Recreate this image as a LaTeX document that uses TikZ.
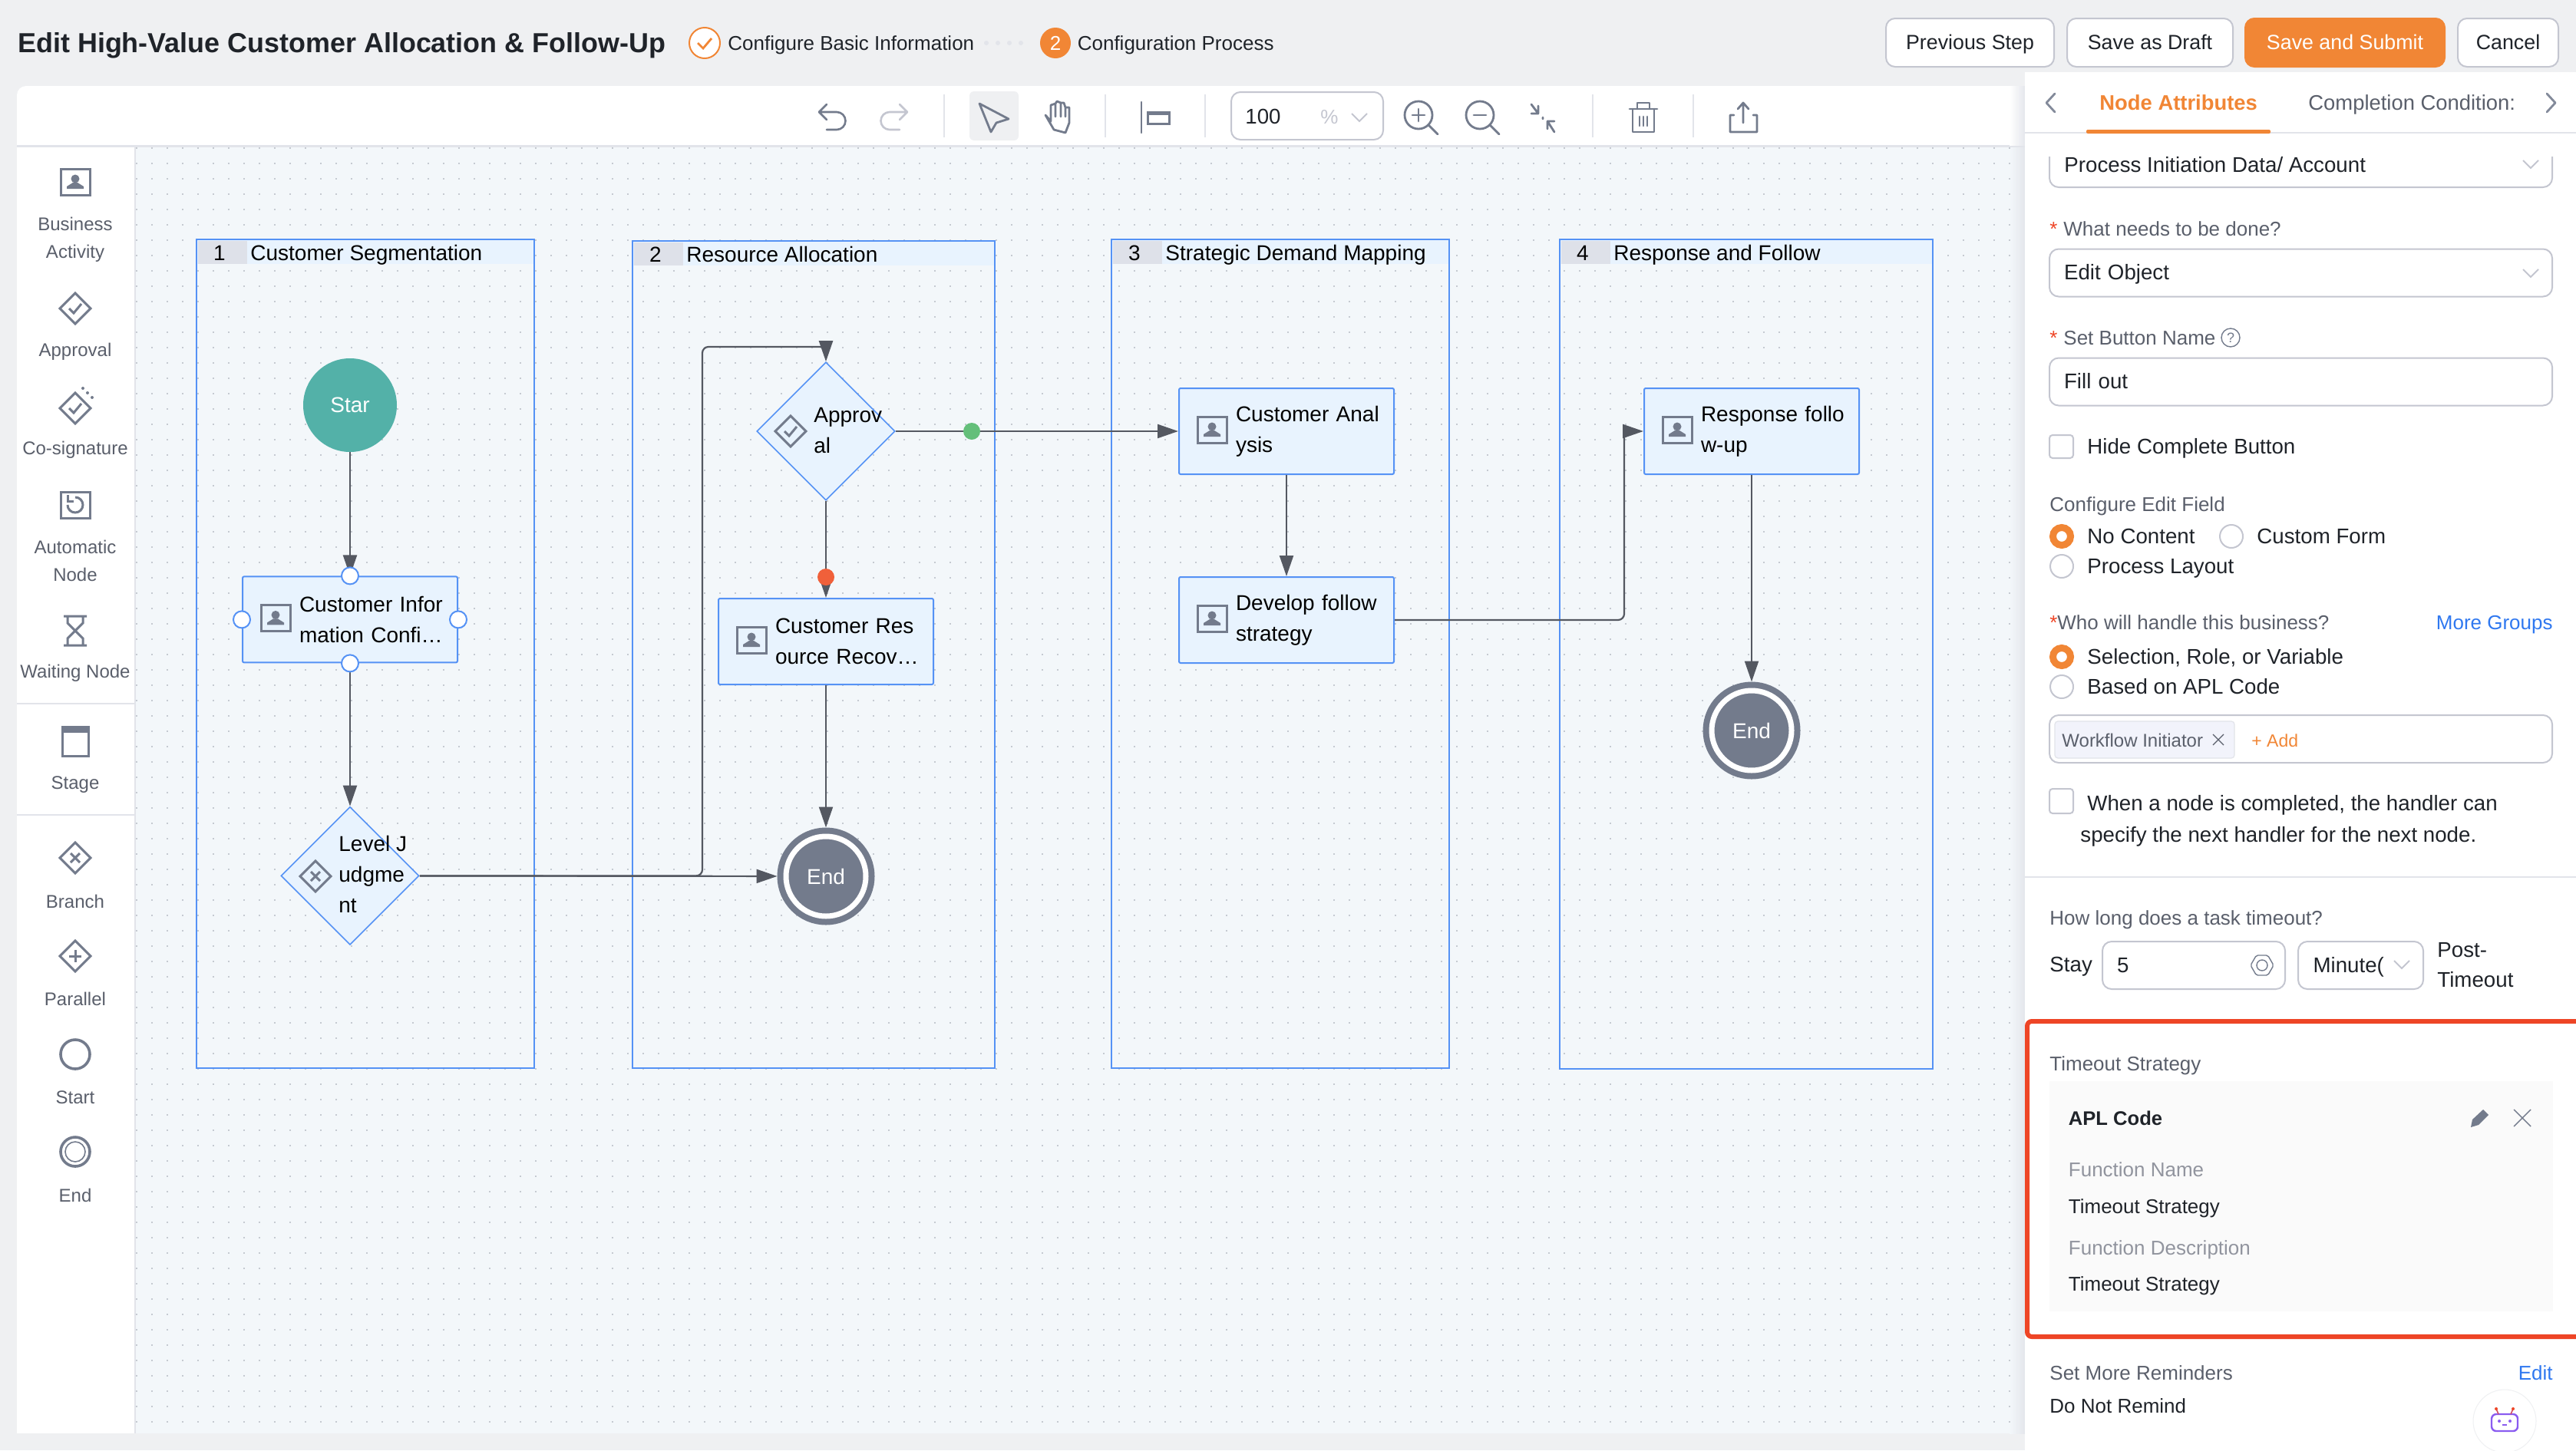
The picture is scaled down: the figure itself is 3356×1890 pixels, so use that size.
\documentclass[tikz,border=0pt]{standalone}
\usepackage{fontspec}
\setmainfont{Liberation Sans}
\usetikzlibrary{
    shapes.geometric,
    arrows.meta,
    positioning,
    calc
}
\definecolor{page_gray}{HTML}{EFF0F2}
\definecolor{canvas_blue}{HTML}{F3F7FA}
\definecolor{node_blue}{HTML}{E8F3FE}
\definecolor{flow_blue}{HTML}{5592F5}
\definecolor{line_gray}{HTML}{545861}
\definecolor{icon_gray}{HTML}{737B8C}
\definecolor{edge_gray}{HTML}{C4C6D0}
\definecolor{rule_gray}{HTML}{E2E4EA}
\definecolor{dot_gray}{HTML}{C5CAD1}
\definecolor{head_gray}{HTML}{DEE1E9}
\definecolor{start_teal}{HTML}{53B1A8}
\definecolor{pass_green}{HTML}{64BF7A}
\definecolor{reject_red}{HTML}{F0603A}
\definecolor{ui_orange}{HTML}{F18635}
\definecolor{ui_red}{HTML}{EE4526}
\definecolor{ui_blue}{HTML}{2F78F0}
\definecolor{text_dark}{HTML}{1F2329}
\definecolor{text_gray}{HTML}{5A5F6B}
\definecolor{text_soft}{HTML}{91949E}
\definecolor{tag_fill}{HTML}{F2F3FB}
\definecolor{code_fill}{HTML}{FAFAFA}
\definecolor{bot_purple}{HTML}{8A5CF0}

\begin{document}
\begin{tikzpicture}[
            x=0.5pt, y=-0.5pt,
            ui_text/.style={anchor=west, inner sep=0pt, text height=12pt, text depth=3pt, text=text_dark, font=\fontsize{13.85}{18}\selectfont},
            ui_head/.style={ui_text, font=\fontsize{13}{18}\selectfont},
            ui_label/.style={ui_text, text=text_gray, font=\fontsize{13}{18}\selectfont},
            ui_soft/.style={ui_label, text=text_soft},
            ui_link/.style={ui_label, anchor=east, text=ui_blue},
            side_text/.style={align=center, inner sep=0pt, yshift=-0.25pt, text=text_gray, font=\fontsize{12}{18}\selectfont},
            lane_box/.style={draw=flow_blue, line width=1pt},
            lane_head/.style={ui_text, text=black, font=\fontsize{14}{18}\selectfont},
            task_node/.style={rectangle, draw=flow_blue, fill=node_blue, line width=1pt, rounded corners=1pt, minimum width=140pt, minimum height=56pt, inner xsep=3pt, inner ysep=0pt, text width=134pt, align=left, text=black, font=\fontsize{14}{20}\selectfont, execute at begin node={\leftskip=34pt\relax}},
            gate_node/.style={diamond, draw=flow_blue, fill=node_blue, line width=0.8pt, minimum width=90pt, minimum height=90pt, inner sep=0pt},
            gate_text/.style={anchor=west, align=left, inner sep=0pt, text=black, font=\fontsize{14}{20}\selectfont},
            start_node/.style={circle, fill=start_teal, minimum size=61pt, inner sep=0pt, text=white, font=\fontsize{14}{18}\selectfont},
            end_node/.style={circle, draw=icon_gray, double=white, fill=icon_gray, line width=4pt, double distance=3.5pt, minimum size=52pt, inner sep=0pt, outer sep=5.75pt, text=white, font=\fontsize{14}{18}\selectfont},
            port_node/.style={circle, draw=flow_blue, fill=white, line width=1pt, minimum size=11pt, inner sep=0pt},
            flow_arrow/.style={draw=line_gray, line width=1.1pt, -{Triangle[length=13.5pt, width=9pt]}},
            ghost_button/.style={rectangle, rounded corners=6pt, draw=edge_gray, fill=white, line width=1pt, minimum height=31.5pt, inner sep=0pt, text height=12pt, text depth=3pt, text=text_dark, font=\fontsize{13.4}{18}\selectfont},
            input_box/.style={rectangle, rounded corners=6pt, draw=edge_gray, fill=white, line width=1pt, anchor=north west, outer sep=0pt, minimum width=327.5pt, minimum height=31pt, inner xsep=9.5pt, inner ysep=0pt, text width=308.5pt, text height=12pt, text depth=3pt, align=left, text=text_dark, font=\fontsize{13.85}{18}\selectfont},
            check_box/.style={draw=edge_gray, fill=white, line width=1pt, rounded corners=2pt},
            radio_off/.style={circle, draw=edge_gray, fill=white, line width=1pt, minimum size=15pt, inner sep=0pt},
            radio_on/.style={circle, draw=ui_orange, fill=white, line width=4.5pt, minimum size=11.5pt, inner sep=0pt},
            icon_line/.style={draw=icon_gray, line width=1.5pt},
            tool_line/.style={draw=icon_gray, line width=1.4pt, line cap=round, line join=round},
            chev_line/.style={draw=edge_gray, line width=1pt},
            grid_dots/.style={draw=dot_gray, line width=1pt, dash pattern=on 1pt off 9pt},
            person_icon/.pic={
                \draw[icon_line] (-19,-17) rectangle (19,17);
                \fill[icon_gray] (0,-4) circle (5.5);
                \fill[icon_gray] (-11,9) -- (-11,6) -- (-3,1) -- (3,1) -- (11,6) -- (11,9) -- cycle;
            },
            gate_shape/.pic={
                \draw[icon_line] (-20,0) -- (0,-20) -- (20,0) -- (0,20) -- cycle;
            },
            gate_check/.pic={
                \pic {gate_shape};
                \draw[icon_line] (-8,0) -- (-2,6) -- (8,-6);
            },
            gate_cross/.pic={
                \pic {gate_shape};
                \draw[icon_line] (-6,-6) -- (6,6) (-6,6) -- (6,-6);
            },
            gate_plus/.pic={
                \pic {gate_shape};
                \draw[icon_line] (-8,0) -- (8,0) (0,-8) -- (0,8);
            },
            undo_icon/.pic={
                \draw[line width=1.3pt, line cap=round, line join=round, draw=#1] (-9,-17) -- (-19,-7) -- (-9,3) (-19,-7) -- (4,-7) arc (-90:90:11.5) -- (-9,16);
            },
            down_chevron/.pic={
                \draw[chev_line] (-10,-5) -- (0,5) -- (10,-5);
            },
            lens_icon/.pic={
                \draw[tool_line] (0,0) circle (18);
                \draw[tool_line] (13,13) -- (25,25);
                \draw[tool_line] (-8,0) -- (8,0);
            }
        ]

        \useasboundingbox (0,0) rectangle (3356,1890);
        \fill[page_gray] (0,0) rectangle (3356,1890);
        \fill[white, rounded corners=6pt] (22,112) rectangle (2700,220);
        \fill[canvas_blue] (176,192) rectangle (2640,1868);
        \fill[white] (22,192) rectangle (175,1868);
        \fill[rule_gray] (22,189) rectangle (2640,192);
        \fill[rule_gray] (175,192) rectangle (177,1868);
        \shade[left color=white, right color=rule_gray] (2618,112) rectangle (2640,189);
        \shade[left color=canvas_blue, right color=rule_gray] (2618,192) rectangle (2640,1868);
        \foreach \dy in {193,213,...,1853}
            \draw[grid_dots] (177,\dy) -- (2637,\dy);

        \node[ui_text, font=\fontsize{17.95}{22}\selectfont\bfseries] (page_title) at (23,59) {Edit High-Value Customer Allocation \& Follow-Up};
        \node[circle, draw=ui_orange, fill=white, line width=1pt, minimum size=20pt, inner sep=0pt] (step_one) at (918,56) {};
        \draw[ui_orange, line width=1.4pt] (909,56) -- (916,63) -- (927,50);
        \node[ui_head, right=4.5pt of step_one] (step_one_text) {Configure Basic Information};
        \foreach \dx in {1285,1300,1315,1330}
            \fill[rule_gray] (\dx,56) circle (3);
        \node[circle, fill=ui_orange, minimum size=20pt, inner sep=0pt, text=white, font=\fontsize{13}{16}\selectfont] (step_two) at (1375,56) {2};
        \node[ui_head, right=4pt of step_two] (step_two_text) {Configuration Process};

        \node[ghost_button, minimum width=109.5pt] (btn_previous) at (2566.5,55.5) {Previous Step};
        \node[ghost_button, minimum width=108pt, right=7.5pt of btn_previous] (btn_draft) {Save as Draft};
        \node[ghost_button, minimum width=130pt, draw=ui_orange, fill=ui_orange, text=white, right=7pt of btn_draft] (btn_submit) {Save and Submit};
        \node[ghost_button, minimum width=65.5pt, right=7.5pt of btn_submit] (btn_cancel) {Cancel};

        \foreach \dx in {1230,1440,1570,2075,2206}
            \draw[rule_gray, line width=0.8pt] (\dx,123) -- (\dx,179);
        \pic at (1086,153) {undo_icon=icon_gray};
        \pic[xscale=-1] at (1163,153) {undo_icon=edge_gray};
        \fill[page_gray, rounded corners=3pt] (1263,119) rectangle (1327,183);
        \draw[tool_line] (1276,135) -- (1314,155) -- (1298,160) -- (1291,172) -- cycle;
        \draw[tool_line] (1362,150) -- (1373,169) -- (1388,173) -- (1393,160) -- (1393,140) -- (1388,140) -- (1388,152) (1388,140) -- (1386,134) -- (1382,134) -- (1382,152) (1382,134) -- (1377,132) -- (1375,135) -- (1375,152) (1375,135) -- (1369,137) -- (1369,158) -- (1362,150);
        \draw[tool_line] (1487,133) -- (1487,173);
        \draw[icon_gray, line width=1.5pt, fill=white] (1495,146) rectangle (1523,161);
        \fill[icon_gray] (1495,146) rectangle (1523,150);
        \node[ghost_button, minimum width=99pt, minimum height=31pt] (zoom_box) at (1703,151) {};
        \node[ui_text] (zoom_value) at (1622,152) {100};
        \node[ui_soft, text=edge_gray] (zoom_unit) at (1720,152) {\%};
        \pic at (1771,153) {down_chevron};
        \pic at (1848,150) {lens_icon};
        \draw[tool_line] (1848,142) -- (1848,158);
        \pic at (1928,150) {lens_icon};
        \draw[tool_line] (1995,136) -- (2004,148) (2004,138) -- (2004,148) -- (1995,148) (2025,172) -- (2016,158) (2016,168) -- (2016,158) -- (2025,158) (2010,153) -- (2010,155);
        \draw[tool_line] (2123,142) -- (2159,142) (2133,142) -- (2133,134) -- (2149,134) -- (2149,142) (2127,142) -- (2127,172) -- (2155,172) -- (2155,142) (2136,152) -- (2136,164) (2141,152) -- (2141,164) (2146,152) -- (2146,164);
        \draw[tool_line] (2259,150) -- (2254,150) -- (2254,172) -- (2289,172) -- (2289,150) -- (2284,150) (2271,160) -- (2271,134) (2264,142) -- (2271,134) -- (2278,142);

        \pic at (98,237) {person_icon};
        \pic at (98,402) {gate_check};
        \pic at (98,532) {gate_check};
        \foreach \a/\b in {114/512,120/518,108/506}
            \fill[icon_gray] (\a,\b) circle (2);
        \draw[icon_line] (79,641) rectangle (117,675);
        \draw[icon_line] (98,648) arc (-90:180:10);
        \draw[icon_line] (88,645) -- (88,653) -- (96,653);
        \draw[icon_line] (83,803) -- (113,803) (83,841) -- (113,841) (88,803) -- (88,812) -- (108,832) -- (108,841) (108,803) -- (108,812) -- (88,832) -- (88,841);
        \draw[icon_line] (81,947) rectangle (115,985);
        \fill[icon_gray] (81,947) rectangle (115,955);
        \pic at (98,1118) {gate_cross};
        \pic at (98,1246) {gate_plus};
        \draw[icon_gray, line width=1.8pt] (98,1374) circle (19);
        \draw[icon_gray, line width=1.8pt] (98,1501) circle (19);
        \draw[icon_gray, line width=0.8pt] (98,1501) circle (13);

        \node[side_text] (side_business) at (98,312) {Business\\Activity};
        \node[side_text] (side_approval) at (98,458) {Approval};
        \node[side_text] (side_cosign) at (98,586) {Co-signature};
        \node[side_text] (side_auto) at (98,730) {Automatic\\Node};
        \node[side_text] (side_wait) at (98,877) {Waiting Node};
        \node[side_text] (side_stage) at (98,1022) {Stage};
        \node[side_text] (side_branch) at (98,1174) {Branch};
        \node[side_text] (side_parallel) at (98,1301) {Parallel};
        \node[side_text] (side_start) at (98,1430) {Start};
        \node[side_text] (side_end) at (98,1557) {End};
        \draw[rule_gray, line width=1pt] (22,917) -- (175,917) (22,1062) -- (175,1062);

        \foreach \id/\xl/\xr/\yt/\yb/\lanetitle in {1/256/696/312/1392/Customer Segmentation, 2/824/1296/314/1392/Resource Allocation, 3/1448/1888/312/1392/Strategic Demand Mapping, 4/2032/2518/312/1393/Response and Follow} {
            \fill[node_blue] (\xl,\yt) rectangle (\xr,\yt+32);
            \fill[head_gray] (\xl+2,\yt+2) rectangle (\xl+66,\yt+32);
            \draw[lane_box] (\xl,\yt) rectangle (\xr,\yb);
            \node[lane_head, anchor=center] (lane_num_\id) at (\xl+30,\yt+18) {\id};
            \node[lane_head] (lane_title_\id) at (\xl+70,\yt+18) {\lanetitle};
        }

        \node[start_node] (start_a) at (456,528) {Star};
        \node[task_node, below=80.5pt of start_a] (cust_info) {Customer Infor\\mation Confi…};
        \node[gate_node, below=93.1pt of cust_info] (level_gate) {};
        \node[gate_text] (level_text) at (441,1139) {Level J\\udgme\\nt};
        \node[end_node] (end_a) at (1076,1142) {End};

        \node[gate_node] (approval_gate) at (1076,562) {};
        \node[gate_text] (approval_text) at (1060,561) {Approv\\al};
        \node[task_node, below=63.1pt of approval_gate] (res_recovery) {Customer Res\\ource Recov…};

        \node[task_node] (cust_analysis) at (1676,562) {Customer Anal\\ysis};
        \node[task_node, below=66pt of cust_analysis] (follow_plan) {Develop follow\\strategy};

        \node[task_node] (follow_up) at (2282,562) {Response follo\\w-up};
        \node[end_node] (end_b) at (2282,952) {End};

        \coordinate (loop_turn) at (915,452);
        \coordinate (follow_turn) at (2116,562);

        \draw[flow_arrow] (start_a) -- (cust_info);
        \draw[flow_arrow] (cust_info) -- (level_gate);
        \draw[flow_arrow] (level_gate.east) -- (end_a);
        \draw[flow_arrow, rounded corners=4pt] (level_gate.east) -| (loop_turn) -| (approval_gate.north);
        \draw[flow_arrow] (approval_gate.east) -- (cust_analysis.west);
        \draw[flow_arrow] (approval_gate.south) -- (res_recovery.north);
        \draw[flow_arrow] (res_recovery) -- (end_a);
        \draw[flow_arrow] (cust_analysis) -- (follow_plan);
        \draw[flow_arrow, rounded corners=4pt] (follow_plan.east) -| (follow_turn) -- (follow_up.west);
        \draw[flow_arrow] (follow_up) -- (end_b);

        \foreach \n in {cust_info,res_recovery,cust_analysis,follow_plan,follow_up}
            \pic at ($(\n.west)+(44,-2)$) {person_icon};
        \pic at (411,1142) {gate_cross};
        \pic at (1030,562) {gate_check};

        \node[port_node] (port_top) at (cust_info.north) {};
        \node[port_node] (port_bottom) at (cust_info.south) {};
        \node[port_node] (port_left) at (cust_info.west) {};
        \node[port_node] (port_right) at (cust_info.east) {};
        \node[circle, fill=pass_green, minimum size=11pt, inner sep=0pt] (pass_dot) at (1266,562) {};
        \node[circle, fill=reject_red, minimum size=11pt, inner sep=0pt] (reject_dot) at (1076,752) {};

        \fill[white] (2638,94) rectangle (3356,1890);
        \draw[rule_gray, line width=1pt] (2638,172.5) -- (3356,172.5);
        \fill[ui_orange, rounded corners=1pt] (2718,169) rectangle (2958,174);
        \draw[tool_line, edge_gray!20!icon_gray] (2677,122) -- (2666,134) -- (2677,146);
        \draw[tool_line, edge_gray!20!icon_gray] (3318,122) -- (3329,134) -- (3318,146);
        \node[ui_text, text=ui_orange, font=\fontsize{13.7}{18}\selectfont\bfseries] (tab_attr) at (2735,134) {Node Attributes};
        \node[ui_label, font=\fontsize{13.7}{18}\selectfont] (tab_cond) at (3007,134) {Completion Condition:};

        \node[input_box] (field_source) at (2670,182) {};
        \fill[white] (2660,175) rectangle (3340,204);
        \node[ui_text] (field_source_text) at (2689,215) {Process Initiation Data/ Account};
        \pic at (3297,214) {down_chevron};

        \node[ui_label, text=ui_red] (star_a) at (2670,298) {*};
        \node[ui_label] (label_task) at (2688,298) {What needs to be done?};
        \node[input_box] (field_task) at (2670,324.5) {Edit Object};
        \pic at (3297,356) {down_chevron};

        \node[ui_label, text=ui_red] (star_b) at (2670,440) {*};
        \node[ui_label] (label_button) at (2688,440) {Set Button Name};
        \node[circle, draw=icon_gray, line width=0.7pt, minimum size=12pt, inner sep=0pt, text=icon_gray, font=\fontsize{9}{10}\selectfont] (help_mark) at (2906,440) {?};
        \node[input_box] (field_button) at (2670,466.5) {Fill out};

        \draw[check_box] (2670,567) rectangle (2701,597);
        \node[ui_text] (hide_text) at (2719,582.5) {Hide Complete Button};

        \node[ui_label] (label_edit) at (2670,657) {Configure Edit Field};
        \node[radio_on] (radio_none) at (2686,699) {};
        \node[ui_text] (radio_none_text) at (2719,699) {No Content};
        \node[radio_off] (radio_form) at (2907,699) {};
        \node[ui_text] (radio_form_text) at (2940,699) {Custom Form};
        \node[radio_off] (radio_layout) at (2686,738) {};
        \node[ui_text] (radio_layout_text) at (2719,738) {Process Layout};

        \node[ui_label, text=ui_red] (star_c) at (2670,811) {*};
        \node[ui_label] (label_handler) at (2680,811) {Who will handle this business?};
        \node[ui_link] (link_groups) at (3326,811) {More Groups};
        \node[radio_on] (radio_select) at (2686,856) {};
        \node[ui_text] (radio_select_text) at (2719,856) {Selection, Role, or Variable};
        \node[radio_off] (radio_apl) at (2686,895) {};
        \node[ui_text] (radio_apl_text) at (2719,895) {Based on APL Code};

        \node[input_box] (field_handler) at (2670,932) {};
        \fill[tag_fill, draw=rule_gray, line width=0.6pt, rounded corners=2pt] (2677,940) rectangle (2911,988);
        \node[ui_label, font=\fontsize{12}{14}\selectfont] (tag_text) at (2686,964) {Workflow Initiator};
        \draw[text_gray, line width=0.6pt] (2883,957) -- (2897,971) (2883,971) -- (2897,957);
        \node[ui_label, text=ui_orange, font=\fontsize{11.5}{14}\selectfont] (tag_add) at (2933,964) {+ Add};

        \draw[check_box] (2670,1028) rectangle (2701,1060);
        \node[ui_text] (next_line_a) at (2719,1047.5) {When a node is completed, the handler can};
        \node[ui_text] (next_line_b) at (2710,1088) {specify the next handler for the next node.};
        \draw[rule_gray, line width=1pt] (2638,1143) -- (3356,1143);

        \node[ui_label] (label_timeout) at (2670,1196) {How long does a task timeout?};
        \node[ui_text] (stay_text) at (2670,1257.5) {Stay};
        \node[input_box, minimum width=119pt, text width=100pt] (field_stay) at (2739,1227) {5};
        \draw[icon_gray, line width=0.7pt] (2947,1258) circle (7);
        \draw[icon_gray, line width=0.7pt, rounded corners=1pt] (2962,1258) -- (2954.5,1245) -- (2939.5,1245) -- (2932,1258) -- (2939.5,1271) -- (2954.5,1271) -- cycle;
        \node[input_box, minimum width=81.5pt, text width=62pt] (field_unit) at (2994,1227) {Minute(};
        \pic at (3129,1257) {down_chevron};
        \node[ui_text] (post_text_a) at (3175,1238) {Post-};
        \node[ui_text] (post_text_b) at (3175,1277) {Timeout};

        \draw[ui_red, line width=3pt, rounded corners=3pt] (3370,1331) -- (2641,1331) -- (2641,1742) -- (3370,1742);
        \node[ui_label] (label_strategy) at (2670,1386) {Timeout Strategy};
        \fill[code_fill] (2670,1409) rectangle (3326,1709);
        \node[ui_head, font=\fontsize{12.8}{18}\selectfont\bfseries] (code_title) at (2694.5,1457) {APL Code};
        \fill[icon_gray] (3219,1469) -- (3221,1459) -- (3235,1446) -- (3242,1453) -- (3229,1466) -- cycle;
        \draw[icon_gray, line width=0.7pt] (3275,1446) -- (3297,1468) (3275,1468) -- (3297,1446);
        \node[ui_soft] (func_name) at (2694.5,1524) {Function Name};
        \node[ui_head] (func_name_val) at (2694.5,1572) {Timeout Strategy};
        \node[ui_soft] (func_desc) at (2694.5,1626.5) {Function Description};
        \node[ui_head] (func_desc_val) at (2694.5,1673) {Timeout Strategy};

        \node[ui_label] (label_remind) at (2670,1789) {Set More Reminders};
        \node[ui_link] (link_edit) at (3326,1789) {Edit};
        \node[ui_head] (remind_text) at (2670,1832) {Do Not Remind};

        \fill[white] (3263,1852) circle (41);
        \draw[page_gray, line width=0.5pt] (3263,1852) circle (41);
        \draw[bot_purple, line width=1.2pt, rounded corners=3pt] (3246,1843) rectangle (3280,1865);
        \draw[ui_red!70!bot_purple, line width=0.8pt] (3255,1843) -- (3252,1836) (3271,1843) -- (3274,1836);
        \fill[ui_red] (3252,1836) circle (2) (3274,1836) circle (2);
        \fill[bot_purple] (3256,1852) circle (2) (3270,1852) circle (2);
        \draw[bot_purple, line width=0.6pt] (3260,1857) -- (3266,1857);

\end{tikzpicture}
\end{document}
